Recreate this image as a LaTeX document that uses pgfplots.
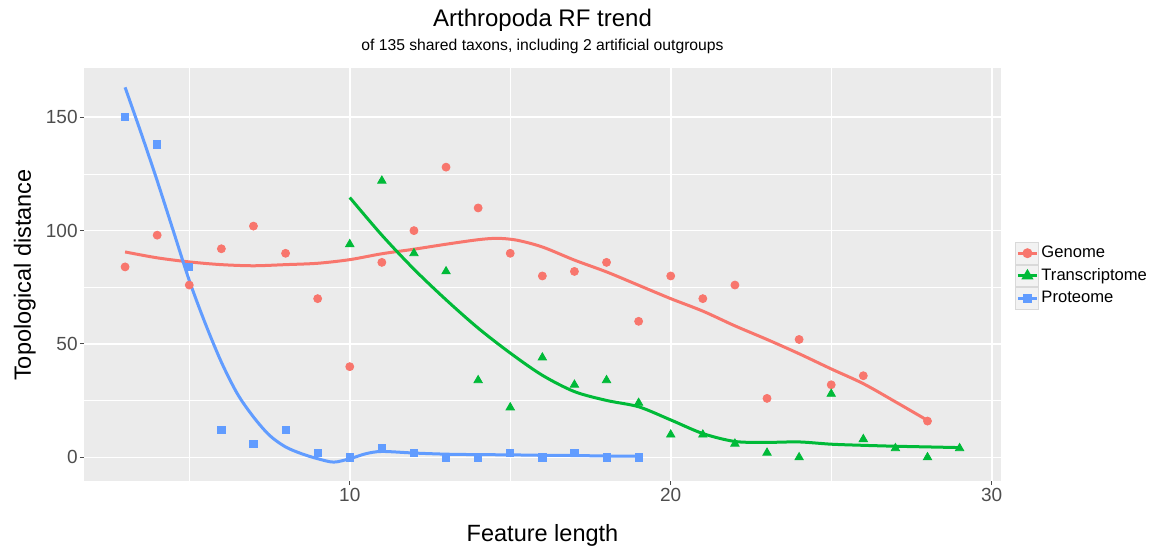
\documentclass[border=0pt]{standalone}
\usepackage{fontspec}
\setmainfont{Liberation Sans}
\usepackage{pgfplots}
\pgfplotsset{compat=1.18}
\definecolor{gred}{HTML}{F8766D}
\definecolor{ggreen}{HTML}{00BA38}
\definecolor{gblue}{HTML}{619CFF}
\definecolor{panel}{HTML}{EBEBEB}
\definecolor{ticktext}{HTML}{4D4D4D}
\definecolor{keybg}{HTML}{F2F2F2}

\begin{document}
\begin{tikzpicture}
\useasboundingbox (-42pt,-35.65pt) rectangle (536pt,240.35pt);
\begin{axis}[
  at={(0pt,0pt)}, anchor=south west,
  scale only axis, width=458.5pt, height=206.2pt,
  xmin=1.72, xmax=30.29, ymin=-10.3, ymax=171.6,
  axis background/.style={fill=panel},
  axis line style={draw=none},
  xtick={10,20,30}, ytick={0,50,100,150},
  minor xtick={5,15,25}, minor ytick={25,75,125},
  grid=both,
  major grid style={white, line width=0.8pt},
  minor grid style={white, line width=0.4pt},
  tick align=outside, major tick length=2pt, minor tick length=0pt,
  tick style={black!70, line width=0.5pt},
  xtick pos=bottom, ytick pos=left,
  /pgf/number format/assume math mode=true,
  ticklabel style={font=\fontsize{9.5}{11}\selectfont, text=ticktext},
  yticklabel style={inner sep=1pt},
  xticklabel style={inner sep=1.5pt},
  clip=false,
  legend style={at={(1.0153,0.58)}, anchor=north west, draw=none, fill=none,
    font=\fontsize{8.3}{10}\selectfont, inner sep=0pt, row sep=0pt,
    nodes={inner sep=1pt}, column sep=0pt},
  legend cell align=left,
  /tikz/every even column/.append style={column sep=1.5pt},
  legend image code/.code={
    \draw[draw=black!15, fill=keybg, line width=0.5pt, solid] (0pt,-5.4pt) rectangle (11.5pt,5.4pt);
    \draw[#1, line width=1.5pt, mark repeat=2, mark phase=2] plot coordinates {(1pt,0pt)(5.75pt,0pt)(10.5pt,0pt)};
  },
]
% Genome points
\addplot[only marks, mark=*, mark size=2pt, color=gred, forget plot] coordinates {
  (3,84)(4,98)(5,76)(6,92)(7,102)(8,90)(9,70)(10,40)(11,86)(12,100)(13,128)
  (14,110)(15,90)(16,80)(17,82)(18,86)(19,60)(20,80)(21,70)(22,76)(23,26)
  (24,52)(25,32)(26,36)(28,16)
};
% Transcriptome points
\addplot[only marks, mark=triangle*, mark size=2.4pt, color=ggreen, forget plot] coordinates {
  (10,94)(11,122)(12,90)(13,82)(14,34)(15,22)(16,44)(17,32)(18,34)(19,24)
  (20,10)(21,10)(22,6)(23,2)(24,0)(25,28)(26,8)(27,4)(28,0)(29,4)
};
% Proteome points
\addplot[only marks, mark=square*, mark size=1.8pt, color=gblue, forget plot] coordinates {
  (3,150)(4,138)(5,84)(6,12)(7,6)(8,12)(9,2)(10,0)(11,4)(12,2)(13,0)(14,0)
  (15,2)(16,0)(17,2)(18,0)(19,0)
};
% smoothed trends
\addplot[gred, line width=1.5pt, smooth, forget plot] coordinates {
  (3,90.6)(4,88)(5,86.2)(6,85)(7,84.5)(8,85)(9,85.6)(10,87.2)(11,89.8)(12,91.8)
  (13,94)(14,96)(14.6,96.6)(15.2,95.8)(16,92.8)(17,87)(18,81.8)(19,75.9)(20,70)
  (21,64.5)(22,58)(23,52)(24,45.7)(25,39)(26,32.5)(27,24.5)(28,16.3)
};
\addplot[ggreen, line width=1.5pt, smooth, forget plot] coordinates {
  (10,114.6)(11,98)(12,83)(13,69.5)(14,57)(15,46)(16,36.2)(17,29)(18,25.1)
  (19,22.3)(20,16.5)(21,10.5)(22,7)(23,6.6)(24,6.8)(25,5.8)(26,5.3)(27,4.9)
  (28,4.6)(29,4.3)
};
\addplot[gblue, line width=1.5pt, smooth, forget plot] coordinates {
  (3,163.2)(3.5,143)(4,122)(4.5,100)(5,78)(5.5,59)(6,42)(6.5,28)(7,17.8)
  (7.5,9.7)(8,4.6)(8.5,1.6)(9,-0.6)(9.5,-2.1)(10,-0.6)(10.5,1.6)(11,2.6)
  (12,1.9)(13,1.4)(14,1.2)(15,1.1)(16,0.9)(17,0.8)(18,0.6)(19,0.5)
};
\addlegendimage{gred, mark=*, mark size=1.7pt}
\addlegendentry{Genome}
\addlegendimage{ggreen, mark=triangle*, mark size=2pt}
\addlegendentry{Transcriptome}
\addlegendimage{gblue, mark=square*, mark size=1.5pt}
\addlegendentry{Proteome}
\end{axis}
\node[anchor=base, font=\fontsize{12}{14}\selectfont] at (229.25pt,227pt) {Arthropoda RF trend};
\node[anchor=base, font=\fontsize{7.85}{10}\selectfont] at (229.25pt,215pt) {of 135 shared taxons, including 2 artificial outgroups};
\node[anchor=base, font=\fontsize{11.75}{14}\selectfont] at (229.25pt,-30.15pt) {Feature length};
\node[anchor=base, rotate=90, font=\fontsize{11.75}{14}\selectfont] at (-26.5pt,102.85pt) {Topological distance};
\end{tikzpicture}
\end{document}
